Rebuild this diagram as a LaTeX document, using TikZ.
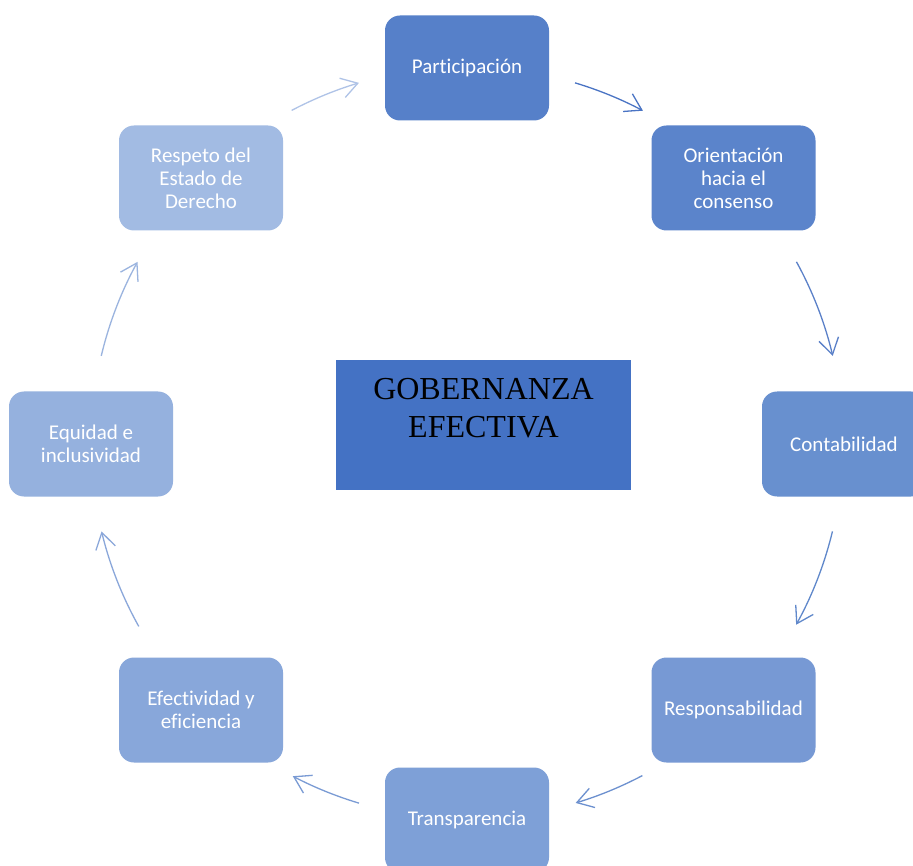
\documentclass[tikz,border=0pt]{standalone}
\usepackage{fontspec}
\setmainfont{Carlito}[Ligatures=NoCommon]
\newfontfamily\serifgob{Liberation Serif}
\usetikzlibrary{arrows.meta,calc}
\definecolor{cgob}{HTML}{4472C4}
\definecolor{fa}{HTML}{5680C9}
\definecolor{fb}{HTML}{5B84CB}
\definecolor{fc}{HTML}{6890CF}
\definecolor{fd}{HTML}{7799D4}
\definecolor{fe}{HTML}{7EA0D7}
\definecolor{ff}{HTML}{88A7DA}
\definecolor{fg}{HTML}{95B1DE}
\definecolor{fh}{HTML}{A2BBE3}
\definecolor{aa}{HTML}{4A74C4}
\definecolor{ab}{HTML}{5A80C8}
\definecolor{ac}{HTML}{6088CB}
\definecolor{ad}{HTML}{6C90CF}
\definecolor{ae}{HTML}{7A9BD4}
\definecolor{af}{HTML}{8AA7DA}
\definecolor{ag}{HTML}{9BB4DF}
\definecolor{ah}{HTML}{AFC3E7}
\tikzset{
  box/.style={rounded corners=15pt, minimum width=164pt, minimum height=105pt,
    inner sep=0pt, text=white, align=center,
    font=\fontsize{21}{23}\selectfont},
  arr/.style={line width=1.3pt, -{Straight Barb[length=16pt,width=20pt,line width=1.3pt]}},
}
\begin{document}
\begin{tikzpicture}[x=1pt,y=-1pt]
\clip (0,0) rectangle (913,866);
\fill[white] (0,0) rectangle (913,866);
\coordinate (ctr) at (467,443);
\node[box, fill=fa] (part) at (467,68) {Participación};
\node[box, fill=fb] (orie) at (733.5,178) {Orientación\\hacia el\\consenso};
\node[box, fill=fc] (cont) at (844,444) {Contabilidad};
\node[box, fill=fd] (resp) at (733.5,710) {Responsabilidad};
\node[box, fill=fe] (tran) at (467,820) {Transparencia};
\node[box, fill=ff] (efec) at (201,710) {Efectividad y\\eficiencia};
\node[box, fill=fg] (equi) at (91,444) {Equidad e\\inclusividad};
\node[box, fill=fh] (resd) at (201,178) {Respeto del\\Estado de\\Derecho};
\fill[cgob] (336,360) rectangle (631,490);
\node[anchor=north, align=center, inner sep=0pt, text=black,
  font=\serifgob\fontsize{32}{38}\selectfont] (gob) at (483.5,378) {GOBERNANZA\\EFECTIVA};
% arcs of the cycle
\draw[arr, aa] ($(ctr)+(-73.3:376)$) coordinate (s1) arc[start angle=-73.3, end angle=-62.1, radius=376];
\draw[arr, ab] ($(ctr)+(-28.8:376)$) coordinate (s2) arc[start angle=-28.8, end angle=-13.4, radius=376];
\draw[arr, ac] ($(ctr)+(13.6:376)$) coordinate (s3) arc[start angle=13.6, end angle=28.9, radius=376];
\draw[arr, ad] ($(ctr)+(62.2:376)$) coordinate (s4) arc[start angle=62.2, end angle=73.2, radius=376];
\draw[arr, ae] ($(ctr)+(106.7:376)$) coordinate (s5) arc[start angle=106.7, end angle=117.6, radius=376];
\draw[arr, af] ($(ctr)+(150.8:376)$) coordinate (s6) arc[start angle=150.8, end angle=166.4, radius=376];
\draw[arr, ag] ($(ctr)+(193.4:376)$) coordinate (s7) arc[start angle=193.4, end angle=208.8, radius=376];
\draw[arr, ah] ($(ctr)+(242.2:376)$) coordinate (s8) arc[start angle=242.2, end angle=253.3, radius=376];
\end{tikzpicture}
\end{document}
